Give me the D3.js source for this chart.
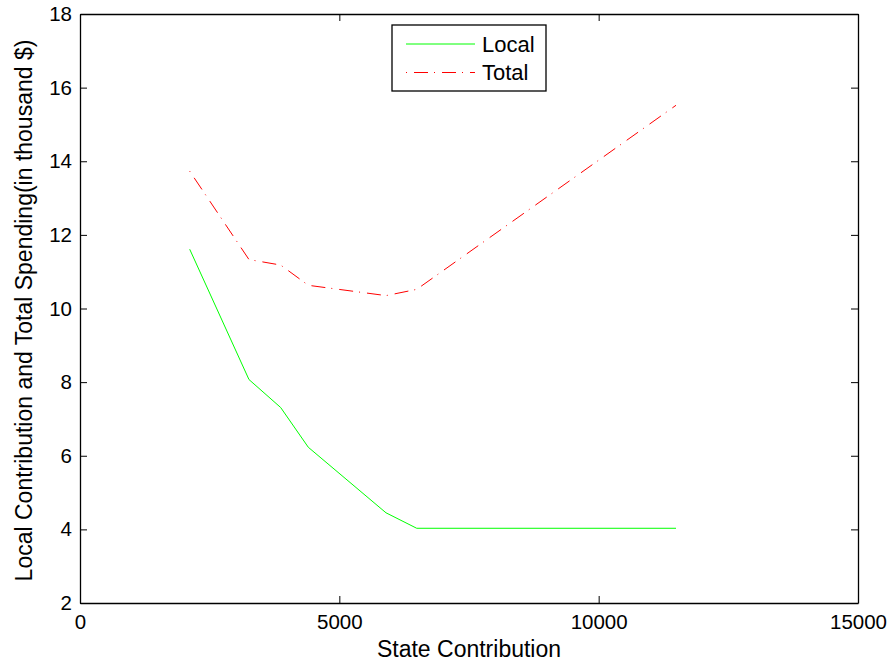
<!DOCTYPE html>
<html>
<head>
<meta charset="utf-8">
<script src="https://cdn.jsdelivr.net/npm/d3@7"></script>
<style>
  body { margin: 0; background: #fff; }
  svg { display: block; font-family: "Liberation Sans", Arial, sans-serif; }
</style>
</head>
<body>
<svg id="chart"></svg>
<script>
// state contribution (x) and spending in thousand $ (y)
const stateContribution = [2115, 3258, 3869, 4402, 5900, 6492, 11491];
const localSpending = [11.61, 8.07, 7.31, 6.23, 4.45, 4.03, 4.03];
const totalSpending = [13.73, 11.33, 11.18, 10.63, 10.35, 10.52, 15.52];
const xTicks = [0, 5000, 10000, 15000];
const yTicks = [2, 4, 6, 8, 10, 12, 14, 16, 18];

const W = 894, H = 664;
const margin = { top: 14, right: 36, bottom: 61, left: 80 };
const width = W - margin.left - margin.right,
    height = H - margin.top - margin.bottom;

const svg = d3.select("#chart")
    .attr("width", W)
    .attr("height", H)
    .append("g")
    .attr("transform", `translate(${margin.left}, ${margin.top})`);

const x = d3.scaleLinear().domain([0, 15000]).range([0, width]);
const y = d3.scaleLinear().domain([2, 18]).range([height, 0]);

const tickLen = 7;

// bottom axis with labels
const gx = svg.append("g")
    .attr("transform", `translate(0, ${height})`)
    .call(d3.axisBottom(x).tickValues(xTicks).tickFormat(d3.format("d"))
        .tickSizeInner(-tickLen).tickSizeOuter(0).tickPadding(11));
// top axis, ticks only
const gxt = svg.append("g")
    .call(d3.axisTop(x).tickValues(xTicks).tickFormat("")
        .tickSizeInner(-tickLen).tickSizeOuter(0));
// left axis with labels
const gy = svg.append("g")
    .call(d3.axisLeft(y).tickValues(yTicks).tickFormat(d3.format("d"))
        .tickSizeInner(-tickLen).tickSizeOuter(0).tickPadding(8));
// right axis, ticks only
const gyr = svg.append("g")
    .attr("transform", `translate(${width}, 0)`)
    .call(d3.axisRight(y).tickValues(yTicks).tickFormat("")
        .tickSizeInner(-tickLen).tickSizeOuter(0));

[gx, gxt, gy, gyr].forEach(g => {
    g.select(".domain").attr("stroke", "#000").attr("stroke-width", 1.3);
    g.selectAll(".tick line").attr("stroke", "#000").attr("stroke-width", 1);
    g.selectAll(".tick text")
        .attr("fill", "#000")
        .style("font-size", "20.5px")
        .style("font-family", "Liberation Sans, Arial, sans-serif");
});
gx.selectAll(".tick text").attr("dy", "0.71em");

const line = d3.line()
    .x((d, i) => x(stateContribution[i]))
    .y(d => y(d));

svg.append("path")
    .datum(localSpending)
    .attr("fill", "none")
    .attr("stroke", "#00ff00")
    .attr("stroke-width", 1)
    .attr("d", line);

svg.append("path")
    .datum(totalSpending)
    .attr("fill", "none")
    .attr("stroke", "#ff0000")
    .attr("stroke-width", 1)
    .attr("stroke-dasharray", "1,7,14,6")
    .attr("d", line);

// axis titles
svg.append("text")
    .attr("x", width / 2)
    .attr("y", height + 54)
    .attr("text-anchor", "middle")
    .style("font-size", "23px")
    .text("State Contribution");

svg.append("text")
    .attr("transform", `translate(${-48}, ${height / 2 + 2}) rotate(-90)`)
    .attr("text-anchor", "middle")
    .style("font-size", "23px")
    .text("Local Contribution and Total Spending(in thousand $)");

// legend
const legend = svg.append("g")
    .attr("transform", `translate(${392 - margin.left}, ${25 - margin.top})`);

legend.append("rect")
    .attr("width", 154)
    .attr("height", 66)
    .attr("fill", "#fff")
    .attr("stroke", "#000")
    .attr("stroke-width", 1.3);

const legendItems = [
    { name: "Local", color: "#00ff00", dash: null },
    { name: "Total", color: "#ff0000", dash: "1,7,14,6" }
];

legendItems.forEach((item, i) => {
    const ly = 19 + i * 28.5;
    legend.append("line")
        .attr("x1", 14).attr("x2", 83)
        .attr("y1", ly).attr("y2", ly)
        .attr("stroke", item.color)
        .attr("stroke-width", 1)
        .attr("stroke-dasharray", item.dash);
    legend.append("text")
        .attr("x", 90)
        .attr("y", ly)
        .attr("dy", "0.36em")
        .style("font-size", "22px")
        .text(item.name);
});
</script>
</body>
</html>
